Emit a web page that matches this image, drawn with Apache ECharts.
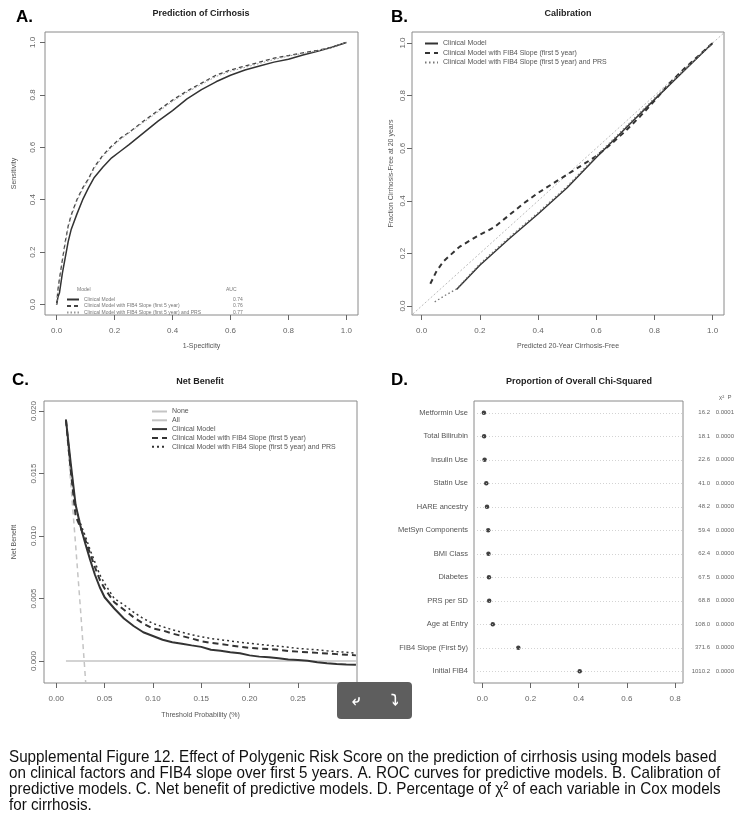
<!DOCTYPE html>
<html><head><meta charset="utf-8">
<script src="https://cdn.jsdelivr.net/npm/echarts@6/dist/echarts.min.js"></script>
<style>html,body{margin:0;padding:0;background:#fff}#c{width:745px;height:828px}</style>
</head><body><div id="c"></div>
<script>
// ---------- Panel A: ROC ----------
const rocX = [0,0.005,0.01,0.02,0.03,0.04,0.05,0.07,0.09,0.11,0.13,0.16,0.19,0.22,0.25,0.3,0.35,0.4,0.45,0.5,0.55,0.6,0.65,0.7,0.75,0.8,0.85,0.9,0.95,1];
const rocClinical = [0,0.03,0.045,0.12,0.18,0.24,0.285,0.345,0.40,0.445,0.485,0.525,0.56,0.585,0.61,0.655,0.70,0.74,0.785,0.82,0.85,0.875,0.895,0.91,0.925,0.936,0.952,0.966,0.982,1];
const rocFib4 = [0,0.06,0.1,0.17,0.24,0.3,0.34,0.4,0.445,0.48,0.525,0.57,0.605,0.635,0.657,0.7,0.74,0.78,0.815,0.845,0.875,0.895,0.91,0.925,0.94,0.95,0.96,0.97,0.982,1];
const rocPrs = [0,0.055,0.095,0.165,0.235,0.295,0.335,0.395,0.44,0.475,0.52,0.565,0.6,0.63,0.655,0.695,0.735,0.775,0.81,0.84,0.87,0.89,0.905,0.92,0.935,0.948,0.958,0.968,0.98,1];
const modelNames = ['Clinical Model','Clinical Model with FIB4 Slope (first 5 year)','Clinical Model with FIB4 Slope (first 5 year) and PRS'];
const aucValues = ['0.74','0.76','0.77'];
const unitTicks = [0,0.2,0.4,0.6,0.8,1.0];

// ---------- Panel B: Calibration ----------
const calClinicalX = [0.12,0.2,0.3,0.4,0.5,0.6,0.7,0.8,0.9,1];
const calClinicalY = [0.063,0.155,0.255,0.35,0.45,0.565,0.675,0.785,0.893,1];
const calFib4X = [0.03,0.05,0.075,0.1,0.13,0.19,0.25,0.3,0.35,0.4,0.45,0.5,0.55,0.6,0.65,0.7,0.75,0.8,0.85,0.9,0.95,1];
const calFib4Y = [0.085,0.13,0.17,0.195,0.225,0.265,0.30,0.345,0.39,0.43,0.465,0.50,0.535,0.57,0.615,0.665,0.72,0.78,0.845,0.9,0.95,1];
const calPrsX = [0.045,0.08,0.12,0.2,0.3,0.4,0.5,0.6,0.7,0.8,0.9,1];
const calPrsY = [0.016,0.04,0.065,0.16,0.26,0.355,0.455,0.57,0.68,0.79,0.895,1];
const calDiag = [-0.05,1.05];

// ---------- Panel C: Net benefit ----------
const nbX = [0.01,0.015,0.02,0.025,0.03,0.035,0.04,0.045,0.05,0.06,0.07,0.08,0.09,0.1,0.11,0.12,0.13,0.14,0.15,0.16,0.17,0.18,0.19,0.2,0.21,0.22,0.23,0.24,0.25,0.26,0.27,0.28,0.29,0.3,0.31];
const nbClinical = [0.0193,0.0158,0.0125,0.0108,0.0094,0.0081,0.0069,0.0059,0.0051,0.0042,0.0034,0.0028,0.0023,0.0020,0.0017,0.0015,0.00138,0.00125,0.00113,0.0009,0.00082,0.0007,0.00062,0.00045,0.00035,0.0003,0.00022,0.00012,0.00008,0.00002,-0.0001,-0.00018,-0.00024,-0.00028,-0.0003];
const nbFib4 = [0.0193,0.0152,0.0116,0.0107,0.0097,0.0086,0.0075,0.0065,0.0058,0.0047,0.0041,0.0035,0.003,0.0026,0.00245,0.0022,0.002,0.0018,0.00158,0.00145,0.00135,0.00125,0.00115,0.00105,0.001,0.00095,0.0009,0.0008,0.00075,0.0007,0.00065,0.0006,0.00055,0.0005,0.00045];
const nbPrs = [0.0193,0.0155,0.0123,0.011,0.01,0.0089,0.0079,0.0069,0.0062,0.005,0.0045,0.0039,0.0034,0.003,0.00274,0.0025,0.0023,0.0021,0.00194,0.0018,0.0017,0.0016,0.0015,0.00141,0.00133,0.00125,0.00118,0.0011,0.00101,0.00095,0.0009,0.00082,0.00075,0.0007,0.00062];
const nbAllX = [0.01,0.015,0.02,0.025,0.0305];
const nbAllY = [0.0193,0.0142,0.0093,0.0042,-0.0018];
const nbNoneX = [0.01,0.31];
const nbNoneY = [0,0];
const nbXTicks = [0,0.05,0.1,0.15,0.2,0.25,0.3];
const nbYTicks = [0,0.005,0.01,0.015,0.02];

// ---------- Panel D: Chi-squared ----------
const chiCats = ['Metformin Use','Total Bilirubin','Insulin Use','Statin Use','HARE ancestry','MetSyn Components','BMI Class','Diabetes','PRS per SD','Age at Entry','FIB4 Slope (First 5y)','Initial FIB4'];
const chiProp = [0.006,0.007,0.009,0.016,0.019,0.024,0.025,0.027,0.028,0.043,0.149,0.404];
const chiSq = ['16.2','18.1','22.6','41.0','48.2','59.4','62.4','67.5','68.8','108.0','371.6','1010.2'];
const chiP = ['0.0001','0.0000','0.0000','0.0000','0.0000','0.0000','0.0000','0.0000','0.0000','0.0000','0.0000','0.0000'];
const chiTicks = [0,0.2,0.4,0.6,0.8];

const caption = [
  'Supplemental Figure 12. Effect of Polygenic Risk Score on the prediction of cirrhosis using models based',
  'on clinical factors and FIB4 slope over first 5 years. A. ROC curves for predictive models. B. Calibration of',
  'predictive models. C. Net benefit of predictive models. D. Percentage of \u03C7\u00B2 of each variable in Cox models',
  'for cirrhosis.'
];

const FONT = "'Liberation Sans', Arial, sans-serif";
const zip = (xs, ys) => xs.map((x, i) => [x, ys[i]]);

function valAxis(o) {
  return Object.assign({
    type: 'value', scale: false,
    axisLine: { show: false, onZero: false },
    splitLine: { show: false },
    nameTextStyle: { color: '#555', fontSize: 7, fontFamily: FONT },
    nameLocation: 'middle'
  }, o);
}
function ticked(vals, fmt, extra) {
  return {
    axisTick: { show: true, inside: false, length: 5, lineStyle: { color: '#666', width: 1 }, customValues: vals },
    axisLabel: Object.assign({ color: '#666', fontSize: 8, fontFamily: FONT, margin: 12, customValues: vals, formatter: fmt }, extra || {})
  };
}
const f1 = v => (+v).toFixed(1);
const f2 = v => (+v).toFixed(2);
const f3 = v => (+v).toFixed(3);

function line(name, xi, data, color, width, type) {
  return {
    type: 'line', name: name, xAxisIndex: xi, yAxisIndex: xi, data: data,
    showSymbol: false, symbol: 'none', smooth: false, clip: true,
    lineStyle: { color: color, width: width, type: type },
    itemStyle: { color: color }, z: 3
  };
}
const stripName = n => n.split('|')[1];

const gridBorder = { show: true, borderColor: '#8a8a8a', borderWidth: 1, backgroundColor: 'transparent' };
const legendCommon = { orient: 'vertical', selectedMode: false, itemStyle: { opacity: 0 } };

const option = {
  animation: false,
  backgroundColor: '#fff',
  textStyle: { fontFamily: FONT },
  grid: [
    Object.assign({ left: 45, top: 32, width: 313, height: 283 }, gridBorder),
    Object.assign({ left: 412, top: 32, width: 312, height: 283 }, gridBorder),
    Object.assign({ left: 44, top: 401, width: 313, height: 282 }, gridBorder),
    Object.assign({ left: 474, top: 401, width: 209, height: 282 }, gridBorder)
  ],
  xAxis: [
    valAxis(Object.assign({ gridIndex: 0, min: -0.04, max: 1.04, name: '1-Specificity', nameGap: 28 }, ticked(unitTicks, f1))),
    valAxis(Object.assign({ gridIndex: 1, min: -0.033, max: 1.039, name: 'Predicted 20-Year Cirrhosis-Free', nameGap: 28 }, ticked(unitTicks, f1))),
    valAxis(Object.assign({ gridIndex: 2, min: -0.0127, max: 0.3111, name: 'Threshold Probability (%)', nameGap: 29 }, ticked(nbXTicks, f2))),
    valAxis(Object.assign({ gridIndex: 3, min: -0.035, max: 0.833 }, ticked(chiTicks, f1)))
  ],
  yAxis: [
    valAxis(Object.assign({ gridIndex: 0, min: -0.04, max: 1.04, name: 'Sensitivity', nameGap: 27, nameRotate: 90 }, ticked(unitTicks, f1, { rotate: 90, margin: 8 }))),
    valAxis(Object.assign({ gridIndex: 1, min: -0.034, max: 1.042, name: 'Fraction Cirrhosis-Free at 20 years', nameGap: 17, nameRotate: 90 }, ticked(unitTicks, f1, { rotate: 90, margin: 5 }))),
    valAxis(Object.assign({ gridIndex: 2, min: -0.00176, max: 0.0208, name: 'Net Benefit', nameGap: 26, nameRotate: 90 }, ticked(nbYTicks, f3, { rotate: 90, margin: 6 }))),
    {
      type: 'category', gridIndex: 3, data: chiCats, inverse: true, boundaryGap: true,
      axisLine: { show: false, onZero: false }, axisTick: { show: false }, splitLine: { show: false },
      axisLabel: { color: '#555', fontSize: 7.5, fontFamily: FONT, margin: 6 }
    },
    {
      type: 'category', gridIndex: 3, data: chiCats, inverse: true, boundaryGap: true, position: 'right',
      axisLine: { show: false, onZero: false }, axisTick: { show: false }, splitLine: { show: false },
      axisLabel: {
        margin: 6, fontFamily: FONT,
        formatter: (v, i) => '{c|' + chiSq[i] + '}{p|' + chiP[i] + '}',
        rich: {
          c: { width: 21, align: 'right', fontSize: 6, color: '#666', fontFamily: FONT },
          p: { width: 24, align: 'right', fontSize: 6, color: '#666', fontFamily: FONT }
        }
      }
    }
  ],
  legend: [
    Object.assign({
      data: modelNames.map(n => 'A|' + n), left: 61, top: 292,
      itemWidth: 12, itemHeight: 5, itemGap: 1.5,
      formatter: n => { const i = modelNames.indexOf(stripName(n)); return '{n|' + stripName(n) + '}{a|' + aucValues[i] + '}'; },
      textStyle: { rich: { n: { width: 149, fontSize: 5, color: '#777', fontFamily: FONT }, a: { fontSize: 5, color: '#777', fontFamily: FONT } } }
    }, legendCommon),
    Object.assign({
      data: modelNames.map(n => 'B|' + n), left: 419, top: 35,
      itemWidth: 13, itemHeight: 6, itemGap: 2.5,
      formatter: stripName,
      textStyle: { fontSize: 7, color: '#555', fontFamily: FONT }
    }, legendCommon),
    Object.assign({
      data: ['C|None', { name: 'C|All', lineStyle: { type: 'solid' } }].concat(modelNames.map(n => 'C|' + n)),
      left: 146, top: 403,
      itemWidth: 15, itemHeight: 6, itemGap: 1.8,
      formatter: stripName,
      textStyle: { fontSize: 7, color: '#555', fontFamily: FONT }
    }, legendCommon)
  ],
  series: [
    line('A|' + modelNames[0], 0, zip(rocX, rocClinical), '#333', 1.5, 'solid'),
    line('A|' + modelNames[1], 0, zip(rocX, rocFib4), '#444', 1.3, [4, 3]),
    line('A|' + modelNames[2], 0, zip(rocX, rocPrs), '#999', 1, [1.5, 2]),

    Object.assign(line('B|diag', 1, zip(calDiag, calDiag), '#aaa', 0.8, [2, 2]), { z: 2 }),
    line('B|' + modelNames[0], 1, zip(calClinicalX, calClinicalY), '#333', 1.5, 'solid'),
    line('B|' + modelNames[1], 1, zip(calFib4X, calFib4Y), '#333', 2, [5, 4]),
    line('B|' + modelNames[2], 1, zip(calPrsX, calPrsY), '#777', 1.3, [1.5, 2.5]),

    line('C|None', 2, zip(nbNoneX, nbNoneY), '#c4c4c4', 1.5, 'solid'),
    line('C|All', 2, zip(nbAllX, nbAllY), '#c4c4c4', 1.5, [5, 4]),
    line('C|' + modelNames[0], 2, zip(nbX, nbClinical), '#333', 2, 'solid'),
    line('C|' + modelNames[1], 2, zip(nbX, nbFib4), '#333', 2, [6, 4]),
    line('C|' + modelNames[2], 2, zip(nbX, nbPrs), '#333', 1.5, [2, 3]),

    {
      type: 'scatter', name: 'D|prop', xAxisIndex: 3, yAxisIndex: 3,
      data: chiProp.map((v, i) => [v, chiCats[i]]),
      symbol: 'circle', symbolSize: 4.5, itemStyle: { color: '#111' }, z: 4,
      markLine: {
        silent: true, symbol: 'none', label: { show: false }, animation: false,
        lineStyle: { type: [1, 2], color: '#c8c8c8', width: 0.8 },
        data: chiCats.map(c => ({ yAxis: c }))
      }
    }
  ],
  graphic: [
    { type: 'text', left: 16, top: 9, style: { text: 'A.', font: 'bold 17px ' + FONT, fill: '#000' } },
    { type: 'text', left: 391, top: 9, style: { text: 'B.', font: 'bold 17px ' + FONT, fill: '#000' } },
    { type: 'text', left: 12, top: 372, style: { text: 'C.', font: 'bold 17px ' + FONT, fill: '#000' } },
    { type: 'text', left: 391, top: 372, style: { text: 'D.', font: 'bold 17px ' + FONT, fill: '#000' } },
    { type: 'text', x: 201, y: 14, style: { text: 'Prediction of Cirrhosis', font: 'bold 9px ' + FONT, fill: '#222', align: 'center', verticalAlign: 'middle' } },
    { type: 'text', x: 568, y: 14, style: { text: 'Calibration', font: 'bold 9px ' + FONT, fill: '#222', align: 'center', verticalAlign: 'middle' } },
    { type: 'text', x: 200, y: 382, style: { text: 'Net Benefit', font: 'bold 9px ' + FONT, fill: '#222', align: 'center', verticalAlign: 'middle' } },
    { type: 'text', x: 579, y: 382, style: { text: 'Proportion of Overall Chi-Squared', font: 'bold 9px ' + FONT, fill: '#222', align: 'center', verticalAlign: 'middle' } },
    { type: 'text', x: 77, y: 290, style: { text: 'Model', font: '5px ' + FONT, fill: '#777', verticalAlign: 'middle' } },
    { type: 'text', x: 226, y: 290, style: { text: 'AUC', font: '5px ' + FONT, fill: '#777', verticalAlign: 'middle' } },
    { type: 'text', x: 719, y: 397, style: { text: '\u03C7\u00B2  P', font: '6px ' + FONT, fill: '#666', verticalAlign: 'middle' } },
    { type: 'text', x: 9, y: 749, scaleX: 0.895, style: { text: caption.join('\n'), font: '17px ' + FONT, lineHeight: 16, fill: '#111' } },
    { type: 'rect', z: 100, shape: { x: 337, y: 682, width: 75, height: 37, r: 4 }, style: { fill: '#5e5e5e' } },
    { type: 'text', z: 101, x: 356, y: 701, style: { text: '\u2936', font: 'bold 15px "DejaVu Sans"', fill: '#fff', align: 'center', verticalAlign: 'middle' } },
    { type: 'text', z: 101, x: 395, y: 701, style: { text: '\u2935', font: 'bold 15px "DejaVu Sans"', fill: '#fff', align: 'center', verticalAlign: 'middle' } }
  ]
};

const chart = echarts.init(document.getElementById('c'), null, { renderer: 'canvas' });
chart.setOption(option);
</script>
</body></html>
